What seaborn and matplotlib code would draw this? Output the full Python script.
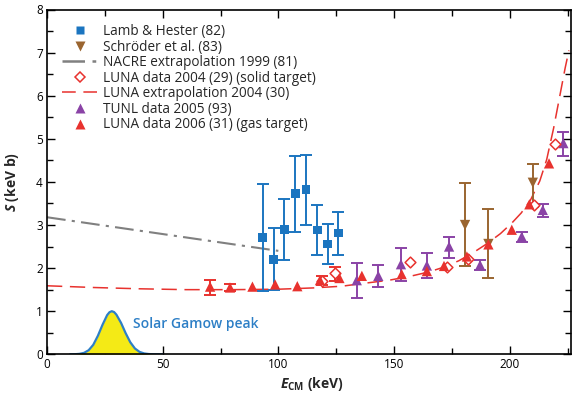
import numpy as np
import pandas as pd
import matplotlib
matplotlib.use("Agg")
import matplotlib.pyplot as plt
import seaborn as sns
from matplotlib.lines import Line2D
from matplotlib.ticker import MultipleLocator

# ---------------- data ----------------
lamb_x = [93.2, 98.0, 102.6, 107.4, 112.0, 116.9, 121.3, 126.0]
lamb_y = [2.71, 2.20, 2.89, 3.73, 3.82, 2.88, 2.56, 2.81]
lamb_lo = [1.46, 1.50, 2.19, 2.84, 3.01, 2.30, 2.10, 2.31]
lamb_hi = [3.96, 2.93, 3.60, 4.61, 4.62, 3.46, 3.02, 3.31]

schroder_x = [180.7, 190.8, 210.0]
schroder_y = [3.00, 2.56, 3.98]
schroder_lo = [2.05, 1.76, 3.42]
schroder_hi = [3.97, 3.36, 4.42]

nacre_x = [0.0, 100.0]
nacre_y = [3.18, 2.40]

luna04_x = [118.8, 124.5, 157.0, 172.8, 181.8, 210.3, 219.6]
luna04_y = [1.71, 1.89, 2.13, 2.03, 2.20, 3.46, 4.88]
luna04_err_x = [118.8, 124.5]
luna04_err_y = [1.71, 1.89]
luna04_err_lo = [1.60, 1.71]
luna04_err_hi = [1.81, 2.02]

extrap_x = [0, 20, 40, 60, 80, 100, 115, 127.5, 137.5, 148, 157, 165, 172,
            178, 184, 190, 196, 201, 205, 209, 213, 216, 219, 221.5, 224, 225.6]
extrap_y = [1.59, 1.55, 1.52, 1.50, 1.50, 1.51, 1.54, 1.58, 1.65, 1.72, 1.81,
            1.91, 2.03, 2.17, 2.35, 2.56, 2.80, 3.05, 3.28, 3.58, 4.02, 4.52,
            5.25, 5.95, 6.65, 7.05]

tunl_x = [133.9, 143.2, 153.0, 164.2, 173.8, 187.2, 205.2, 214.3, 223.2]
tunl_y = [1.72, 1.82, 2.09, 2.06, 2.50, 2.07, 2.73, 3.35, 4.90]
tunl_lo = [1.30, 1.55, 1.69, 1.76, 2.23, 1.96, 2.61, 3.19, 4.60]
tunl_hi = [2.11, 2.07, 2.46, 2.34, 2.73, 2.19, 2.84, 3.49, 5.16]

luna06_x = [70.5, 79.1, 88.8, 98.6, 108.2, 118.0, 126.4, 136.1, 153.3, 164.2,
            171.6, 181.5, 190.8, 200.9, 208.5, 217.0]
luna06_y = [1.57, 1.55, 1.57, 1.62, 1.58, 1.72, 1.77, 1.82, 1.86, 1.93, 2.05,
            2.27, 2.55, 2.89, 3.48, 4.43]
luna06_err_x = [70.5, 79.1]
luna06_err_y = [1.57, 1.55]
luna06_err_lo = [1.38, 1.46]
luna06_err_hi = [1.72, 1.64]

gamow_x = [10, 12, 14, 16, 18, 20, 22, 24, 26, 27, 28, 29, 30, 32, 34, 36, 38,
           40, 42, 44, 46, 48, 50]
gamow_y = [0.0, 0.002, 0.01, 0.033, 0.094, 0.22, 0.43, 0.685, 0.91, 0.976, 1.0,
           0.98, 0.92, 0.73, 0.49, 0.28, 0.135, 0.056, 0.02, 0.006, 0.0015, 0.0, 0.0]

labels = ["Lamb & Hester (82)", "Schröder et al. (83)",
          "NACRE extrapolation 1999 (81)", "LUNA data 2004 (29) (solid target)",
          "LUNA extrapolation 2004 (30)", "TUNL data 2005 (93)",
          "LUNA data 2006 (31) (gas target)"]

# ---------------- style ----------------
sns.set_style("ticks")
plt.rcParams["font.family"] = ["Open Sans", "DejaVu Sans"]
plt.rcParams["mathtext.fontset"] = "custom"
plt.rcParams["mathtext.rm"] = "Open Sans"
plt.rcParams["mathtext.bf"] = "Open Sans:bold"
plt.rcParams["mathtext.it"] = "Open Sans:italic"
plt.rcParams["mathtext.bfit"] = "Open Sans:italic:bold"

c_blue = "#1b75c0"
c_brown = "#9a6530"
c_gray = "#808080"
c_red = "#e8322e"
c_purple = "#8a43a6"
c_yellow = "#f4ea16"
c_gblue = "#2d7fc6"

fig = plt.figure(figsize=(5.72, 3.99), dpi=100)
W, H = 572, 399
x0, x1, ytop, ybot = 47, 571, 9.5, 354.3
ax = fig.add_axes([x0 / W, 1 - ybot / H, (x1 - x0) / W, (ybot - ytop) / H])

# Gamow peak
gdf = pd.DataFrame({"x": gamow_x, "y": gamow_y})
ax.fill_between(gdf["x"], 0, gdf["y"], color=c_yellow, lw=0, zorder=1)
sns.lineplot(data=gdf, x="x", y="y", ax=ax, color=c_gblue, lw=1.6, zorder=2,
             estimator=None, sort=False)
ax.text(37, 0.70, "Solar Gamow peak", color=c_gblue, fontsize=10,
        fontweight="semibold", va="center", ha="left")

# NACRE line
sns.lineplot(x=nacre_x, y=nacre_y, ax=ax, color=c_gray, lw=1.5,
             dashes=False, zorder=2)
ax.lines[-1].set_dashes([9, 3, 1.5, 3])

# LUNA extrapolation
sns.lineplot(x=extrap_x, y=extrap_y, ax=ax, color=c_red, lw=1.1, zorder=2,
             estimator=None, sort=False)
ax.lines[-1].set_dashes([10, 5])

eb_kw = dict(fmt="none", capsize=4, elinewidth=1.4, capthick=1.4, zorder=3)

# Lamb & Hester
ax.errorbar(lamb_x, lamb_y,
            yerr=[np.array(lamb_y) - np.array(lamb_lo), np.array(lamb_hi) - np.array(lamb_y)],
            ecolor=c_blue, **eb_kw)
sns.scatterplot(x=lamb_x, y=lamb_y, ax=ax, marker="s", color=c_blue, s=38,
                edgecolor="none", zorder=4)

# Schroeder
ax.errorbar(schroder_x, schroder_y,
            yerr=[np.array(schroder_y) - np.array(schroder_lo),
                  np.array(schroder_hi) - np.array(schroder_y)],
            ecolor=c_brown, **eb_kw)
sns.scatterplot(x=schroder_x, y=schroder_y, ax=ax, marker="v", color=c_brown,
                s=55, edgecolor="none", zorder=4)

# TUNL
ax.errorbar(tunl_x, tunl_y,
            yerr=[np.array(tunl_y) - np.array(tunl_lo), np.array(tunl_hi) - np.array(tunl_y)],
            ecolor=c_purple, **eb_kw)
sns.scatterplot(x=tunl_x, y=tunl_y, ax=ax, marker="^", color=c_purple, s=55,
                edgecolor="none", zorder=4)

# LUNA 2004 solid target
ax.errorbar(luna04_err_x, luna04_err_y,
            yerr=[np.array(luna04_err_y) - np.array(luna04_err_lo),
                  np.array(luna04_err_hi) - np.array(luna04_err_y)],
            ecolor=c_red, **eb_kw)
sns.scatterplot(x=luna04_x, y=luna04_y, ax=ax, marker="D", s=30,
                facecolor="white", edgecolor=c_red, linewidth=1.1, zorder=5)

# LUNA 2006 gas target
ax.errorbar(luna06_err_x, luna06_err_y,
            yerr=[np.array(luna06_err_y) - np.array(luna06_err_lo),
                  np.array(luna06_err_hi) - np.array(luna06_err_y)],
            ecolor=c_red, **eb_kw)
sns.scatterplot(x=luna06_x, y=luna06_y, ax=ax, marker="^", color=c_red, s=55,
                edgecolor="none", zorder=5)

# axes
ax.set_xlim(0, 226.5)
ax.set_ylim(0, 8)
ax.xaxis.set_major_locator(MultipleLocator(50))
ax.xaxis.set_minor_locator(MultipleLocator(25))
ax.yaxis.set_major_locator(MultipleLocator(1))
ax.yaxis.set_minor_locator(MultipleLocator(0.5))
ax.tick_params(which="both", direction="in", top=True, right=True,
               labelsize=8.5, colors="black", width=1.0, pad=3)
ax.tick_params(which="major", length=6)
ax.tick_params(which="minor", length=4)
for sp in ax.spines.values():
    sp.set_visible(True)
    sp.set_linewidth(1.2)
    sp.set_color("black")

ax.set_xlabel(r"$\mathbfit{E}_{\mathbf{CM}}$ (keV)", fontsize=10, fontweight="bold")
ax.set_ylabel(r"$\mathbfit{S}$ (keV b)", fontsize=10, fontweight="bold")
ax.xaxis.set_label_coords(0.505, -0.061)
ax.yaxis.set_label_coords(-0.05, 0.5)

# legend
handles = [
    Line2D([], [], ls="none", marker="s", color=c_blue, ms=6, mec="none"),
    Line2D([], [], ls="none", marker="v", color=c_brown, ms=7, mec="none"),
    Line2D([], [], color=c_gray, lw=1.8, dashes=[9, 3, 1.5, 3]),
    Line2D([], [], ls="none", marker="D", mfc="white", mec=c_red, mew=1.1, ms=5.5),
    Line2D([], [], color=c_red, lw=1.1, dashes=[9, 5]),
    Line2D([], [], ls="none", marker="^", color=c_purple, ms=7, mec="none"),
    Line2D([], [], ls="none", marker="^", color=c_red, ms=7, mec="none"),
]
ax.legend(handles, labels, loc="upper left", bbox_to_anchor=(62 / W, 1 - 24 / H),
          bbox_transform=fig.transFigure, frameon=False, fontsize=9.8,
          handlelength=2.6, handletextpad=0.4, labelspacing=0.04,
          borderpad=0, borderaxespad=0)

fig.savefig("out.png", dpi=100)
